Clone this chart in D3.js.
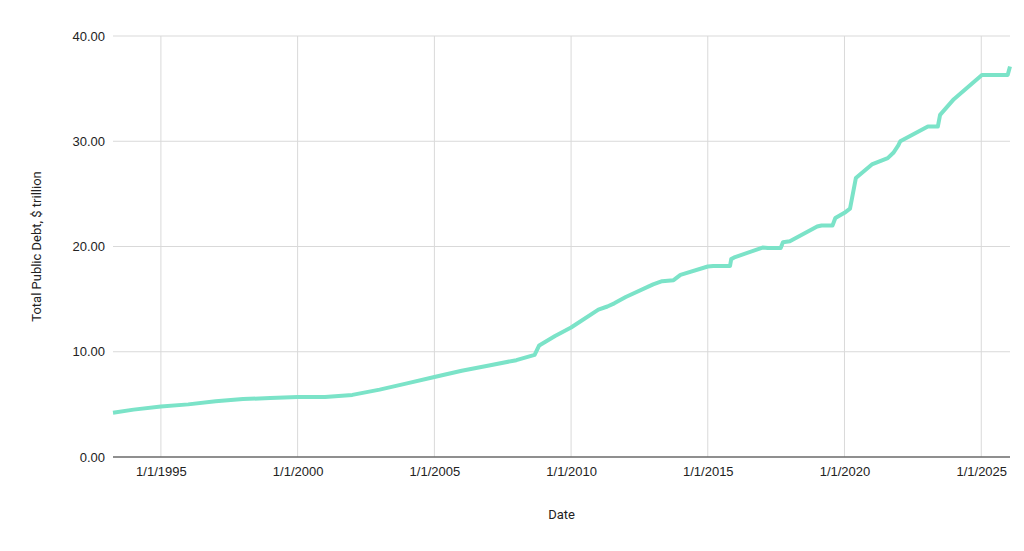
<!DOCTYPE html>
<html>
<head>
<meta charset="utf-8">
<script src="https://cdn.jsdelivr.net/npm/d3@7"></script>
<style>
  body { margin: 0; background: #fff; font-family: Roboto, "Liberation Sans", Arial, sans-serif; }
  .grid line { stroke: #d9d9d9; }
  .axis text { font-size: 13px; fill: #222; }
  .axis path, .axis line { display: none; }
</style>
</head>
<body>
<script>
var dates = ["1993-04-01","1994-01-01","1995-01-01","1996-01-01","1997-01-01","1998-01-01","1999-01-01",
  "2000-01-01","2001-01-01","2002-01-01","2003-01-01","2004-01-01","2005-01-01","2006-01-01","2007-01-01",
  "2008-01-01","2008-09-01","2008-11-01","2009-06-01","2010-01-01","2011-01-01","2011-05-01","2011-08-01",
  "2012-01-01","2013-01-01","2013-05-01","2013-10-01","2014-01-01","2015-01-01","2015-03-15","2015-10-25",
  "2015-11-10","2016-01-01","2017-01-01","2017-03-15","2017-09-01","2017-10-01","2018-01-01","2019-01-01",
  "2019-03-01","2019-07-25","2019-09-01","2020-01-01","2020-03-15","2020-06-01","2021-01-01","2021-08-01",
  "2021-10-15","2021-12-20","2022-01-15","2023-01-19","2023-06-01","2023-07-01","2024-01-01","2025-01-10",
  "2025-12-20","2026-01-20"];
var debt = [4.2,4.5,4.8,5.0,5.3,5.5,5.6,5.7,5.7,5.9,6.4,7.0,7.6,8.2,8.7,9.2,9.7,10.6,11.5,12.3,14.0,14.3,14.6,
  15.2,16.4,16.7,16.8,17.3,18.1,18.15,18.15,18.8,19.0,19.9,19.85,19.85,20.4,20.5,21.9,22.0,22.0,22.7,23.2,23.6,
  26.5,27.8,28.4,28.9,29.6,30.0,31.4,31.4,32.5,34.0,36.3,36.3,37.1];
var yTicks = [0,10,20,30,40];
var xTickYears = [1995,2000,2005,2010,2015,2020,2025];

var w = 1024, h = 551;
var margin = {left: 113, right: 14, top: 36, bottom: 94};
var svg = d3.select('body').append('svg').attr('width', w).attr('height', h);
var parse = d3.timeParse('%Y-%m-%d');
var data = dates.map(function(d, i) { return {date: parse(d), v: debt[i]}; });

var x = d3.scaleTime().domain([data[0].date, data[data.length - 1].date]).range([margin.left, w - margin.right]);
var y = d3.scaleLinear().domain([0, 40]).range([h - margin.bottom, margin.top]);
var xTicks = xTickYears.map(function(yr) { return new Date(yr, 0, 1); });

svg.append('g').attr('class', 'grid').selectAll('line').data(yTicks).enter().append('line')
  .attr('x1', margin.left).attr('x2', w - margin.right)
  .attr('y1', function(d) { return y(d); }).attr('y2', function(d) { return y(d); });
svg.append('g').attr('class', 'grid').selectAll('line').data(xTicks).enter().append('line')
  .attr('y1', margin.top).attr('y2', h - margin.bottom)
  .attr('x1', function(d) { return x(d); }).attr('x2', function(d) { return x(d); });
svg.append('line').attr('x1', margin.left).attr('x2', w - margin.right)
  .attr('y1', y(0)).attr('y2', y(0)).attr('stroke', '#333');

svg.append('g').attr('class', 'axis').attr('transform', 'translate(' + (margin.left - 4) + ',0)')
  .call(d3.axisLeft(y).tickValues(yTicks).tickFormat(d3.format('.2f')).tickSize(0).tickPadding(4));
svg.append('g').attr('class', 'axis').attr('transform', 'translate(0,' + (h - margin.bottom + 6) + ')')
  .call(d3.axisBottom(x).tickValues(xTicks).tickFormat(d3.timeFormat('%-m/%-d/%Y')).tickSize(0).tickPadding(4));

svg.append('path').datum(data).attr('fill', 'none').attr('stroke', '#7be3c8').attr('stroke-width', 4)
  .attr('stroke-linejoin', 'round')
  .attr('d', d3.line().x(function(d) { return x(d.date); }).y(function(d) { return y(d.v); }));

svg.append('text').attr('x', (margin.left + w - margin.right) / 2).attr('y', 519).attr('text-anchor', 'middle')
  .attr('font-size', 13).attr('fill', '#222').text('Date');
svg.append('text').attr('transform', 'translate(41,' + ((margin.top + h - margin.bottom) / 2) + ')rotate(-90)')
  .attr('text-anchor', 'middle').attr('font-size', 13).attr('fill', '#222').text('Total Public Debt, $ trillion');
</script>
</body>
</html>
